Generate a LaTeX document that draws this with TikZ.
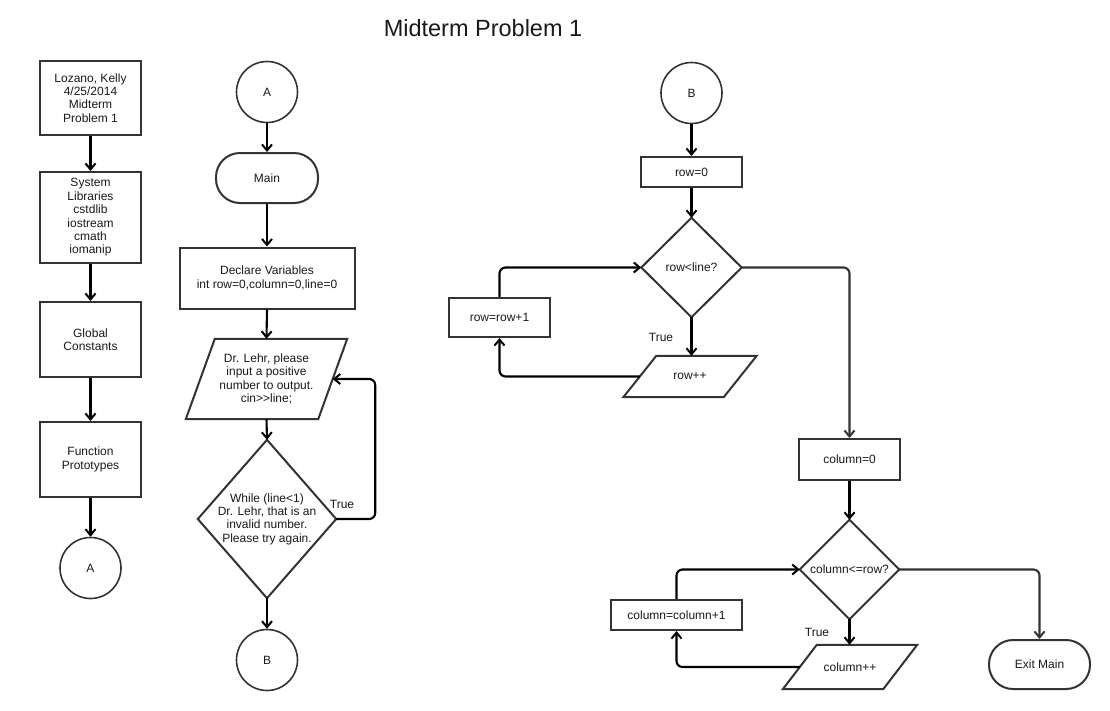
\documentclass[tikz,border=0pt]{standalone}
\usepackage{fontspec}
\setmainfont{Liberation Sans}
\usetikzlibrary{arrows.meta}
\definecolor{edgec}{HTML}{333333}
\definecolor{txtc}{HTML}{1A1A1A}
\newcommand{\myparallel}[2]{\draw[outl] ([xshift=#2]#1.north west) -- ([xshift=#2]#1.north east) -- ([xshift=-#2]#1.south east) -- ([xshift=-#2]#1.south west) -- cycle;}
\newcommand{\mydiamond}[1]{\draw[outl] (#1.north) -- (#1.east) -- (#1.south) -- (#1.west) -- cycle;}
\begin{document}
\begin{tikzpicture}[x=1pt,y=-1pt,
  every node/.style={font=\fontsize{12}{13.4}\selectfont, text=txtc, align=center, inner sep=0pt},
  outl/.style={draw=edgec, line width=2pt, line join=miter},
  proc/.style={draw=edgec, line width=2pt},
  term/.style={draw=edgec, line width=2pt, rounded corners=24pt},
  conn/.style={circle, draw=edgec, line width=1.6pt, minimum size=61pt},
  arr/.style={draw=black, line width=2.1pt, rounded corners=6pt, -{Straight Barb[length=6pt,width=10pt,line width=2pt]}}]
\useasboundingbox (0,0) rectangle (1110,710);
\fill[white] (0,0) rectangle (1110,710);
% title
\node (title) at (483,28) {\fontsize{23.5}{26}\selectfont Midterm Problem 1};
% left column
\node[proc, minimum width=101pt, minimum height=74pt] (b1) at (90.5,98) {Lozano, Kelly\\4/25/2014\\Midterm\\Problem 1};
\node[proc, minimum width=101pt, minimum height=91pt] (b2) at (90.5,217.5) {System\\Libraries\\cstdlib\\iostream\\cmath\\iomanip};
\node[proc, minimum width=101pt, minimum height=75pt] (b3) at (90.5,339.5) {Global\\Constants};
\node[proc, minimum width=101pt, minimum height=75pt] (b4) at (90.5,459.5) {Function\\Prototypes};
\node[conn] (a1) at (90.5,568) {A};
\draw[arr] (b1.south) -- (b2.north);
\draw[arr] (b2.south) -- (b3.north);
\draw[arr] (b3.south) -- (b4.north);
\draw[arr] (b4.south) -- (a1.north);
% middle column
\node[conn] (a2) at (267,92) {A};
\node[term, minimum width=102pt, minimum height=50pt] (main) at (267,178) {Main};
\node[proc, minimum width=175pt, minimum height=61pt] (decl) at (267,278) {Declare Variables\\int row=0,column=0,line=0};
\node[minimum width=132pt, minimum height=80pt] (in1) at (266.5,379) {Dr. Lehr, please\\input a positive\\number to output.\\cin>{}>line;};
\myparallel{in1}{14.5pt}
\node[minimum width=138pt, minimum height=158pt] (d1) at (267,519) {While (line<1)\\Dr. Lehr, that is an\\invalid number.\\Please try again.};
\mydiamond{d1}
\node[conn] (bb1) at (267,660) {B};
\node (t1) at (342,504) {True};
\draw[arr] (a2.south) -- (main.north);
\draw[arr] (main.south) -- (decl.north);
\draw[arr] (decl.south) -- (in1.north);
\draw[arr] (in1.south) -- (d1.north);
\draw[arr] (d1.south) -- (bb1.north);
\draw[arr] (d1.east) -- ++(39,0) |- (in1.east);
% right upper
\node[conn] (bb2) at (691.5,93) {B};
\node[proc, minimum width=101pt, minimum height=30pt] (row0) at (691.5,172) {row=0};
\node[minimum width=100pt, minimum height=99pt] (d2) at (691.5,267.5) {row<line?};
\mydiamond{d2}
\node[proc, minimum width=101pt, minimum height=39pt] (rinc) at (499.5,317.5) {row=row+1};
\node[minimum width=100pt, minimum height=41pt] (rpp) at (690,376.5) {row++};
\myparallel{rpp}{16.5pt}
\node (t2) at (661,337) {True};
\draw[arr] (bb2.south) -- (row0.north);
\draw[arr] (row0.south) -- (d2.north);
\draw[arr] (d2.south) -- (d2.south |- rpp.north);
\draw[arr] (rpp.west) -| (rinc.south);
\draw[arr] (rinc.north) |- (d2.west);
% right lower
\node[proc, minimum width=101pt, minimum height=41pt] (col0) at (849.5,459.5) {column=0};
\node[minimum width=99pt, minimum height=99pt] (d3) at (849.5,569.5) {column<=row?};
\mydiamond{d3}
\node[proc, minimum width=131pt, minimum height=30pt] (cinc) at (676.5,615) {column=column+1};
\node[minimum width=100pt, minimum height=44pt] (cpp) at (850,667) {column++};
\myparallel{cpp}{17pt}
\node[term, minimum width=101pt, minimum height=49pt] (exitm) at (1039.5,664.5) {Exit Main};
\node (t3) at (817,632) {True};
\draw[arr, draw=edgec] (d2.east) -| (col0.north);
\draw[arr] (col0.south) -- (d3.north);
\draw[arr] (d3.south) -- (d3.south |- cpp.north);
\draw[arr] (cpp.west) -| (cinc.south);
\draw[arr] (cinc.north) |- (d3.west);
\draw[arr, draw=edgec] (d3.east) -| (exitm.north);
\end{tikzpicture}
\end{document}
